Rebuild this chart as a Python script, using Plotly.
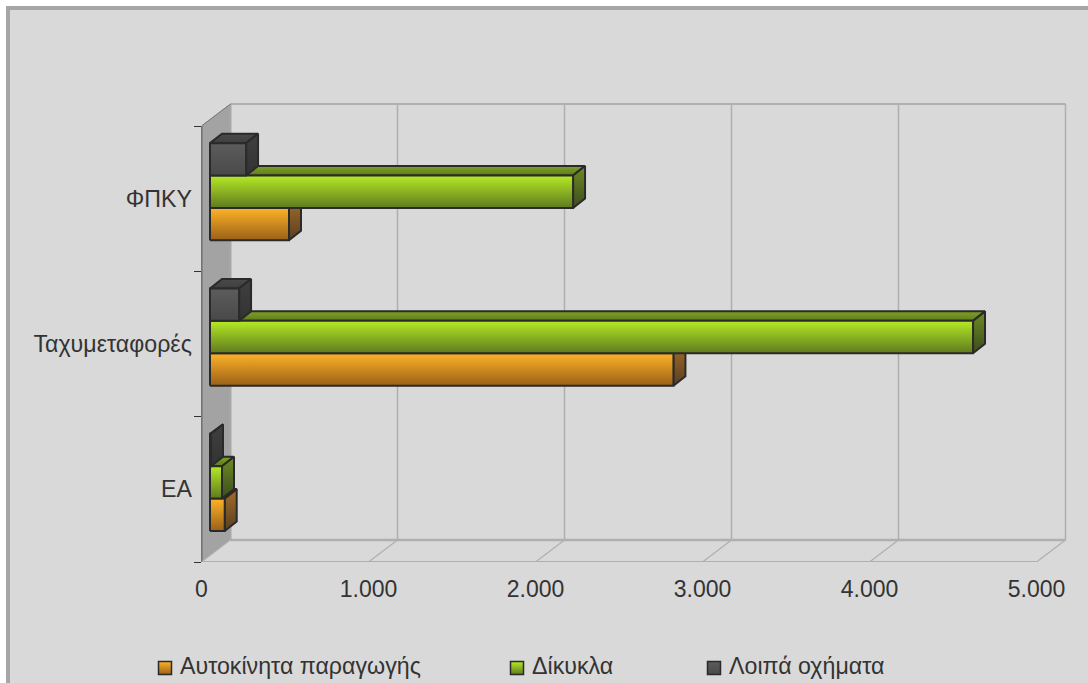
import plotly.graph_objects as go

# --- data -----------------------------------------------------------------
categories = ["ΕΑ", "Ταχυμεταφορές", "ΦΠΚΥ"]
series_names = ["Αυτοκίνητα παραγωγής", "Δίκυκλα", "Λοιπά οχήματα"]
cars = [88, 2775, 473]
bikes = [72, 4569, 2174]
others = [6, 174, 216]
x_ticks = [0, 1000, 2000, 3000, 4000, 5000]
x_tick_labels = ["0", "1.000", "2.000", "3.000", "4.000", "5.000"]

# --- styles ---------------------------------------------------------------
W, H = 1088, 683
X0, Y0, YTOP = 201.5, 562.0, 126.0
PX_PER_UNIT = 0.167
PX_PER_CAT = (Y0 - YTOP) / 3
EDGE = "#2a2a2a"
TEXT = "#333333"
GRID = "#afafaf"
FONT = "Liberation Sans"

styles = [
    dict(front=("#9a6018", "#ffb327"), side=("#574020", "#a56c28"), top=("#8a5a1c", "#a56c28")),
    dict(front=("#5f7a1e", "#b5ea26"), side=("#3d4c1e", "#6d8c24"), top=("#5f7a1e", "#7fa222")),
    dict(front=("#494949", "#5c5c5c"), side=("#333333", "#3f3f3f"), top=("#3f3f3f", "#4a4a4a")),
]
legend_pos = [(165, 178), (517, 530), (714, 727)]
legend_y = 667

ux = lambda px: px / PX_PER_UNIT
uy = lambda px: px / PX_PER_CAT

WALL_DX, WALL_DY = ux(29), uy(22)
INSET_DX, INSET_DY = ux(8.5), uy(6.5)
BAR_DX, BAR_DY = ux(12), uy(9.5)
BAR_H = uy(32.4)
BAR_GAP = uy(31)  # bottom of the first bar above the category floor

XMAX = ux(W - X0)
PLOT_TOP = 96
YMAX = uy(Y0 - PLOT_TOP)

fig = go.Figure()


def poly(xs, ys, colors=None, fill=None, line=EDGE, width=2, name=None):
    kw = dict(
        x=list(xs) + [xs[0]], y=list(ys) + [ys[0]], mode="lines", fill="toself",
        line=dict(color=line, width=width), hoverinfo="skip", showlegend=False, name=name,
    )
    if colors:
        kw["fillgradient"] = dict(type="vertical", colorscale=[[0, colors[0]], [1, colors[1]]])
        kw["fillcolor"] = colors[1]
    else:
        kw["fillcolor"] = fill
    fig.add_trace(go.Scatter(**kw))


def seg(xs, ys, color=GRID, width=1.5):
    fig.add_trace(go.Scatter(x=xs, y=ys, mode="lines", line=dict(color=color, width=width),
                             hoverinfo="skip", showlegend=False))


n = len(categories)
xmax_tick = x_ticks[-1]

# left wall
poly([0, WALL_DX, WALL_DX, 0], [0, WALL_DY, n + WALL_DY, n], fill="#a3a3a3", line="#a3a3a3", width=1)

# back-wall grid and floor lines
for t in x_ticks[1:]:
    seg([t + WALL_DX, t + WALL_DX], [WALL_DY, n + WALL_DY])
    seg([t, t + WALL_DX], [0, WALL_DY], width=1.2)
seg([WALL_DX, xmax_tick + WALL_DX], [n + WALL_DY, n + WALL_DY], width=2)
seg([WALL_DX, xmax_tick + WALL_DX], [WALL_DY, WALL_DY], width=2.5)
seg([0, xmax_tick], [0, 0], width=2)
seg([WALL_DX, WALL_DX], [WALL_DY, n + WALL_DY], color="#a8a8a8", width=2)

# axis edge of the left wall
seg([0, 0], [0, n], color="#333333", width=1.5)
seg([0, WALL_DX], [n, n + WALL_DY], color="#777777", width=1)
seg([0, WALL_DX], [0, WALL_DY], color="#b8b8b8", width=1)

# bars, one box per value, painted back to front
for s, values in enumerate([cars, bikes, others]):
    st = styles[s]
    for c, v in enumerate(values):
        x0 = INSET_DX
        x1 = INSET_DX + v
        y0 = c + BAR_GAP + s * BAR_H
        y1 = y0 + BAR_H
        poly([x0, x0 + BAR_DX, x1 + BAR_DX, x1], [y1, y1 + BAR_DY, y1 + BAR_DY, y1],
             colors=st["top"], name=series_names[s])
        poly([x1, x1 + BAR_DX, x1 + BAR_DX, x1], [y0, y0 + BAR_DY, y1 + BAR_DY, y1],
             colors=st["side"], name=series_names[s])
        poly([x0, x1, x1, x0], [y0, y0, y1, y1], colors=st["front"], name=series_names[s])

# legend, placed on a full-page pixel axis pair
for s, name in enumerate(series_names):
    mx, tx = legend_pos[s]
    st = styles[s]
    fig.add_trace(go.Scatter(
        x=[mx], y=[legend_y + 1], mode="markers", xaxis="x2", yaxis="y2", name=name,
        marker=dict(symbol="square", size=13, color=st["front"][1],
                    gradient=dict(type="vertical", color=st["front"][0]),
                    line=dict(color=EDGE, width=1.5)),
        hoverinfo="skip", showlegend=False))
    fig.add_annotation(x=tx, y=legend_y - 1, xref="x2", yref="y2", text=name, showarrow=False,
                       xanchor="left", yanchor="middle",
                       font=dict(family=FONT, size=23.2, color=TEXT))

fig.update_layout(
    width=W, height=H, autosize=False,
    margin=dict(l=0, r=0, t=0, b=0),
    paper_bgcolor="white", plot_bgcolor="rgba(0,0,0,0)",
    showlegend=False,
    xaxis=dict(
        domain=[X0 / W, 1], range=[0, XMAX], tickmode="array", tickvals=x_ticks,
        ticktext=x_tick_labels, showgrid=False, zeroline=False, showline=False, automargin=False,
        ticks="outside", ticklen=6, tickcolor="rgba(0,0,0,0)",
        tickfont=dict(family=FONT, size=23, color=TEXT),
    ),
    yaxis=dict(
        domain=[1 - Y0 / H, 1 - PLOT_TOP / H], range=[0, YMAX], tickmode="array",
        tickvals=[i + 0.5 for i in range(n)], ticktext=categories,
        showgrid=False, zeroline=False, showline=False, automargin=False,
        ticks="outside", ticklen=4, tickcolor="rgba(0,0,0,0)",
        tickfont=dict(family=FONT, size=23.2, color=TEXT),
        minor=dict(tickmode="array", tickvals=list(range(n + 1)), ticks="outside",
                   ticklen=7, tickcolor="#333333", tickwidth=1),
    ),
    xaxis2=dict(domain=[0, 1], range=[0, W], visible=False, anchor="y2", automargin=False),
    yaxis2=dict(domain=[0, 1], range=[H, 0], visible=False, anchor="x2", automargin=False),
    shapes=[dict(
        type="rect", layer="below", xref="paper", yref="paper",
        x0=8 / W, y0=1 - 8 / H, x1=1.05, y1=-0.05,
        fillcolor="#d9d9d9", line=dict(color="#a6a6a6", width=4),
    )],
)

fig.write_html("out.html", config=dict(displayModeBar=False),
               post_script="document.body.style.margin='0';document.body.style.overflow='hidden';")
